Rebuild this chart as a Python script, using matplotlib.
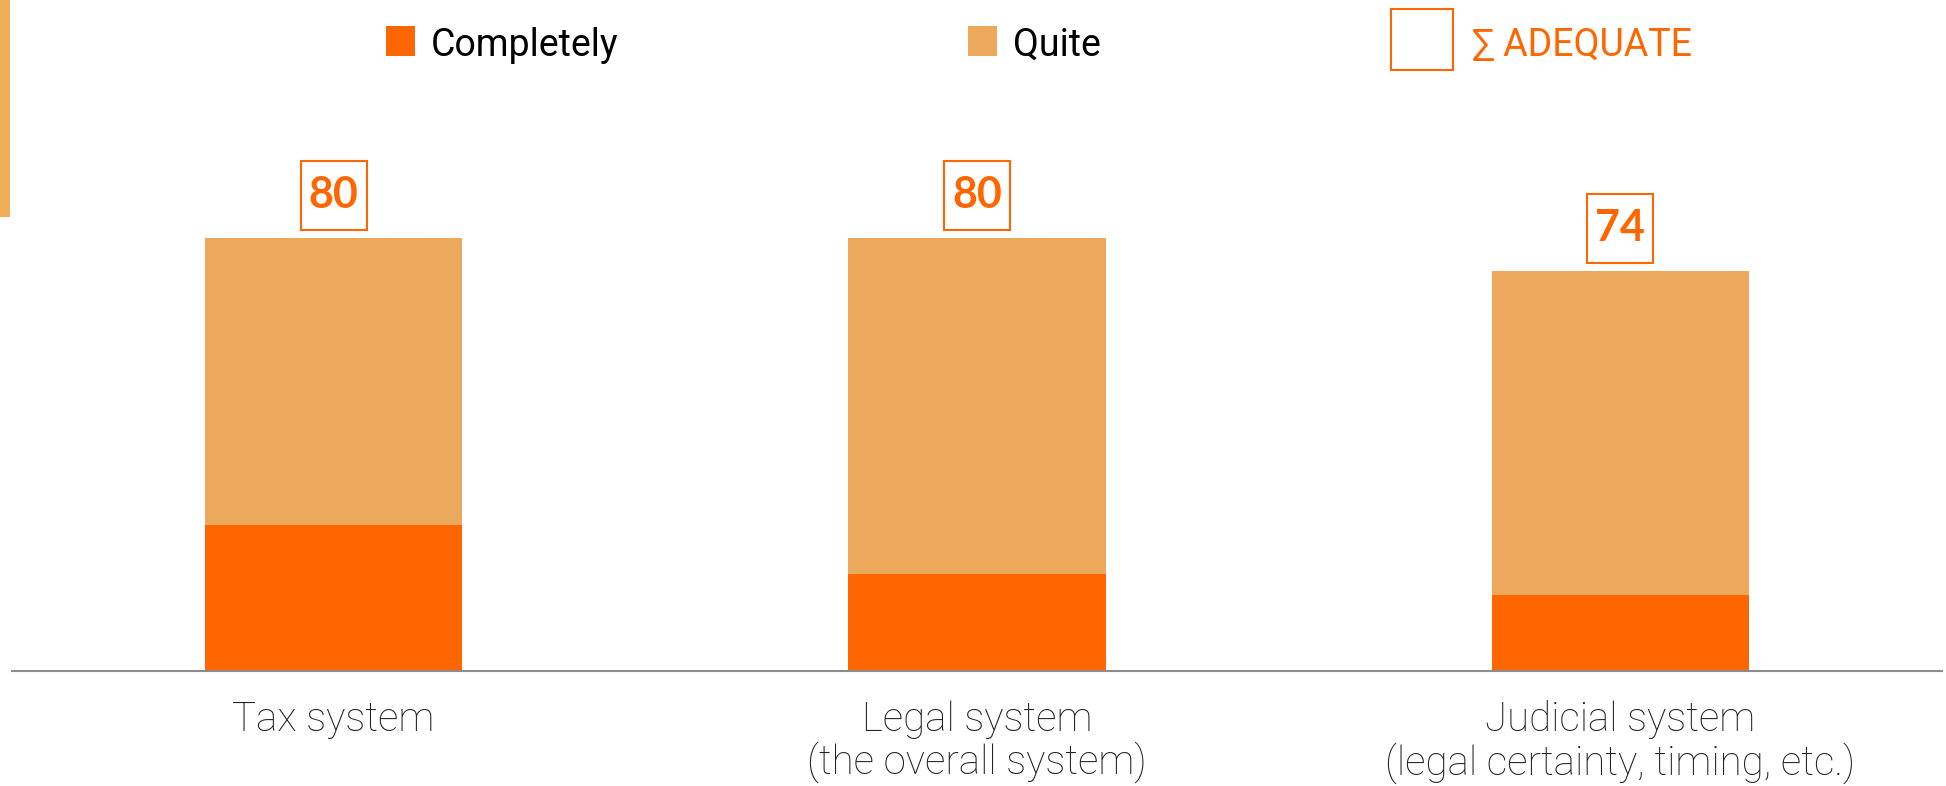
import numpy as np
import matplotlib.pyplot as plt
from matplotlib.patches import Rectangle
from matplotlib.transforms import ScaledTranslation

categories = ["Tax system", "Legal system\n(the overall system)",
              "Judicial system\n(legal certainty, timing, etc.)"]
completely = [27, 18, 14]
quite = [53, 62, 60]
adequate = [80, 80, 74]

c_orange = "#FF6600"
c_light = "#EDA95B"

W, H = 1946, 786
fig = plt.figure(figsize=(W / 100, H / 100), dpi=100)
ax = fig.add_axes([12 / W, 115 / H, 1930 / W, 541 / H])

x = np.arange(len(categories))
ax.bar(x, completely, width=0.4, color=c_orange)
ax.bar(x, quite, width=0.4, bottom=completely, color=c_light)

# value boxes: sized in pixels (0.01 in at 100 dpi), anchored on the bar top
for xi, tot in zip(x, adequate):
    trans = fig.dpi_scale_trans + ScaledTranslation(xi, tot, ax.transData)
    ax.add_patch(Rectangle((-0.33, 0.08), 0.66, 0.69, transform=trans,
                           fc="white", ec=c_orange, lw=1.5, clip_on=False))
    ax.text(0, 0.43, str(tot), transform=trans, ha="center", va="center",
            fontsize=31, fontweight="bold", family=["Lato", "DejaVu Sans"],
            color=c_orange)

ax.set_xlim(-0.5, 2.5)
ax.set_ylim(0, 100)
ax.set_yticks([])
ax.set_xticks(x)
ax.set_xticklabels(categories, fontsize=29, family=["Roboto", "DejaVu Sans"],
                   fontweight="light", color="#222222", linespacing=1.08)
ax.tick_params(axis="x", length=0, pad=21)
for s in ["top", "left", "right"]:
    ax.spines[s].set_visible(False)
ax.spines["bottom"].set_color("#8C8C8C")
ax.spines["bottom"].set_linewidth(1.5)

# left accent strip
fig.add_artist(Rectangle((0, 1 - 217 / H), 10 / W, 217 / H,
                         transform=fig.transFigure, color="#F0AD55", lw=0))

# legend, drawn by hand
leg_font = ["Roboto", "DejaVu Sans"]
base_y = 1 - 56 / H
for x0, col, lab in [(386, c_orange, "Completely"), (968, c_light, "Quite")]:
    fig.add_artist(Rectangle((x0 / W, base_y), 29 / W, 30 / H,
                             transform=fig.transFigure, color=col, lw=0))
    fig.text((x0 + 45) / W, base_y, lab, fontsize=27, family=leg_font,
             color="black", va="baseline", ha="left")

fig.add_artist(Rectangle((1391 / W, 1 - 70 / H), 62 / W, 61 / H,
                         transform=fig.transFigure, fc="white", ec=c_orange, lw=1.5))
fig.text(1472 / W, base_y, "\u2211 ADEQUATE", fontsize=27, family=leg_font,
         color=c_orange, va="baseline", ha="left")

fig.savefig("out.png", dpi=100, facecolor="white")
